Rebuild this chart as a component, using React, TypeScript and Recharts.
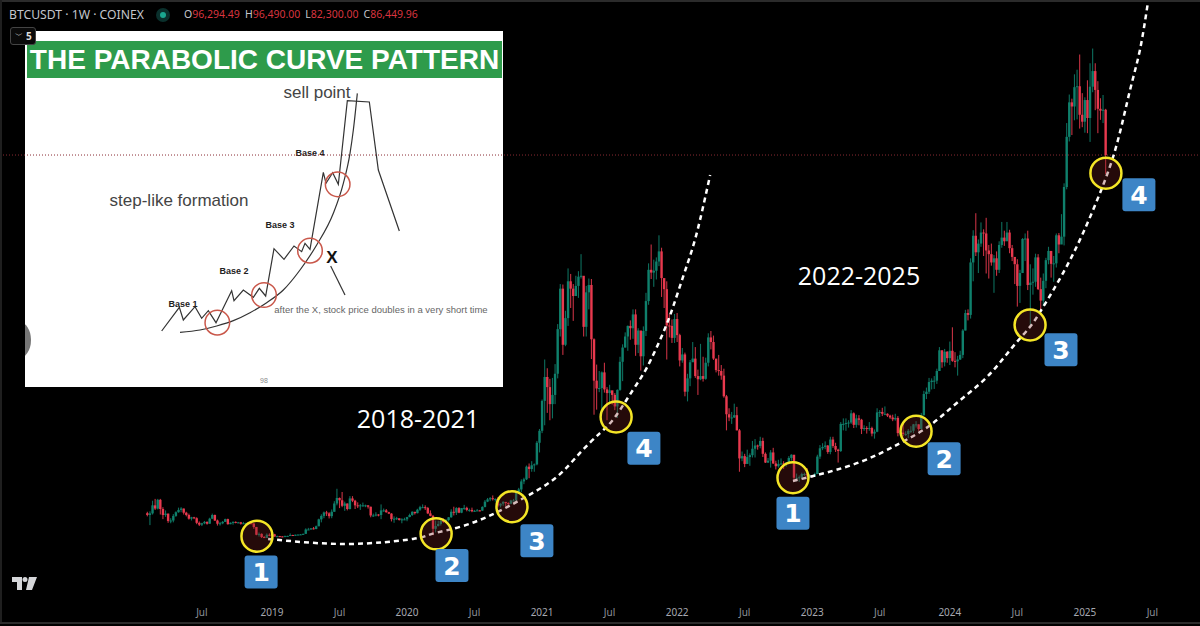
import { Bar, ComposedChart, Line, LineChart, ReferenceDot, ReferenceLine, XAxis, YAxis } from 'recharts';

// weekly BTCUSDT, prices in thousands of USD, first bar is the week of Jan 29 2018
const firstOpen = 8.6;
const closes = [
  8.2, 8.55, 10.3, 9.6, 11.5, 9.5, 8.2, 8.5, 6.9, 7.0, 8.0, 8.8, 9.3, 9.6, 8.7, 8.2, 7.4, 7.7, 7.5, 6.5, 6.1, 6.4, 6.7, 6.3, 7.4, 8.2, 7.0, 6.3, 6.4, 6.7, 7.3, 6.2, 6.5, 6.7, 6.6, 6.6, 6.3, 6.4, 6.4, 6.4, 6.35, 5.6, 3.9, 4.1, 3.4, 3.2, 3.9, 3.8, 4.0,
  3.5, 3.6, 3.55, 3.45, 3.65, 3.65, 3.85, 3.8, 3.9, 3.95, 3.98, 4.1, 5.05, 5.05, 5.3, 5.15, 5.75, 7.25, 8.0, 8.75, 8.55, 7.95, 8.9, 10.7, 11.9, 11.4, 10.2, 10.7, 9.5, 11.8, 11.3, 10.3, 10.1, 10.3, 10.3, 10.3, 10.0, 8.1, 8.1, 8.3, 8.2, 9.2, 9.2, 8.8, 8.5, 7.3, 7.4, 7.5, 7.1, 7.25, 7.25, 7.75,
  8.2, 8.9, 8.6, 9.35, 9.9, 9.9, 9.7, 8.55, 8.0, 5.2, 5.8, 6.25, 6.9, 6.85, 7.1, 7.7, 8.9, 8.7, 9.7, 8.7, 9.7, 9.75, 9.3, 9.3, 9.0, 9.1, 9.2, 9.15, 9.95, 11.1, 11.6, 11.85, 11.65, 11.7, 10.25, 10.65, 11.05, 10.8, 10.65, 11.35, 11.35, 13.1, 13.75, 15.5, 15.95, 18.7, 18.2, 19.0, 19.2, 23.9, 26.5, 33.0,
  38.2, 36.0, 32.3, 34.3, 38.9, 48.6, 57.4, 45.2, 51.0, 59.0, 57.4, 55.8, 58.0, 60.0, 60.2, 49.1, 56.6, 58.2, 46.4, 37.4, 35.7, 35.8, 39.2, 35.5, 34.7, 35.3, 34.3, 31.8, 35.4, 41.5, 44.6, 47.0, 49.3, 48.8, 51.8, 45.2, 48.3, 42.7, 48.2, 54.7, 61.5, 60.9, 61.3, 63.3, 65.5, 59.7, 57.3, 49.4, 49.3, 46.7, 50.8, 47.3,
  41.8, 43.1, 35.0, 37.9, 41.4, 42.2, 38.4, 37.7, 38.4, 37.8, 41.3, 46.8, 45.8, 42.2, 39.7, 39.5, 38.5, 34.0, 30.1, 29.4, 29.4, 29.9, 26.6, 20.5, 21.0, 19.3, 20.8, 21.2, 22.6, 23.3, 23.2, 24.3, 21.5, 19.6, 20.0, 21.8, 19.4, 18.8, 19.3, 19.4, 19.3, 19.6, 20.6, 21.3, 16.3, 16.3, 16.4, 17.1, 17.1, 16.8, 16.8, 16.6,
  17.1, 20.9, 22.7, 23.0, 23.3, 21.9, 24.6, 23.2, 22.4, 22.1, 28.0, 28.0, 28.2, 28.3, 30.3, 27.8, 29.2, 28.9, 26.9, 27.1, 26.9, 27.1, 25.9, 26.3, 30.5, 30.6, 30.2, 30.2, 29.8, 29.4, 29.0, 29.3, 26.0, 26.1, 25.8, 25.8, 26.5, 26.5, 27.9, 27.9, 26.9, 29.9, 34.5, 35.0, 37.1, 37.4, 37.4, 39.5, 44.0, 41.4, 43.7, 42.3,
  43.9, 41.7, 41.6, 42.0, 43.0, 48.3, 52.1, 51.7, 63.1, 68.9, 65.3, 67.2, 69.6, 69.4, 65.7, 64.9, 63.1, 64.0, 61.5, 66.9, 68.5, 67.7, 69.6, 66.2, 64.3, 62.7, 58.0, 60.8, 68.2, 68.3, 58.2, 58.7, 58.9, 64.2, 57.3, 54.8, 59.1, 63.6, 65.6, 62.8, 62.9, 69.0, 67.0, 68.7, 79.5, 90.4, 97.9, 97.0, 101.2, 101.4, 95.2, 93.7, 98.4,
  94.5, 101.3, 104.7, 100.6, 96.5, 96.1, 96.29, 86.45,
];
const highs = [
  8.9, 9.0, 11.3, 11.7, 11.7, 11.7, 9.9, 9.2, 8.5, 7.5, 8.4, 9.0, 9.8, 9.9, 9.6, 8.9, 8.5, 7.8, 7.8, 7.7, 6.8, 6.5, 6.9, 6.8, 7.6, 8.5, 8.3, 7.2, 6.7, 6.9, 7.4, 7.4, 6.6, 6.8, 6.8, 6.7, 6.7, 6.7, 6.5, 6.5, 6.5, 6.4, 5.6, 4.4, 4.2, 3.6, 4.2, 4.2, 4.1,
  4.1, 3.7, 3.65, 3.55, 3.7, 3.7, 4.2, 3.9, 3.95, 3.95, 4.05, 4.15, 5.3, 5.4, 5.35, 5.6, 5.9, 7.4, 8.35, 8.95, 9.1, 8.8, 9.4, 11.2, 13.9, 12.0, 13.2, 11.1, 10.7, 12.3, 12.3, 11.5, 10.95, 10.6, 10.9, 10.45, 10.3, 10.0, 8.5, 8.8, 8.4, 10.5, 9.6, 9.5, 8.9, 8.6, 7.9, 7.8, 7.4, 7.5, 7.6, 7.8,
  8.5, 9.0, 8.8, 9.55, 10.2, 10.5, 10.3, 9.95, 9.2, 8.2, 7.0, 6.95, 7.3, 7.45, 7.3, 7.75, 9.45, 10.0, 9.9, 9.9, 9.7, 10.4, 10.0, 9.6, 9.8, 9.3, 9.5, 9.3, 10.1, 11.45, 11.9, 12.1, 12.45, 11.8, 12.1, 10.75, 11.2, 10.95, 10.95, 11.5, 11.7, 13.35, 14.1, 15.95, 16.3, 18.95, 19.4, 19.9, 19.4, 24.3, 26.9, 33.3,
  42.0, 40.1, 37.8, 38.0, 41.0, 49.7, 58.4, 58.3, 52.6, 61.8, 60.6, 58.4, 60.2, 61.2, 64.9, 57.5, 58.0, 59.6, 59.5, 46.6, 40.9, 39.5, 39.4, 41.3, 36.0, 36.5, 35.1, 34.7, 35.5, 42.6, 45.3, 47.9, 49.4, 50.5, 52.9, 52.9, 48.8, 48.1, 49.2, 56.5, 62.9, 67.0, 63.7, 64.2, 69.0, 66.3, 59.5, 59.0, 51.9, 50.7, 51.9, 52.1,
  47.6, 44.5, 43.5, 38.9, 41.9, 45.8, 44.7, 39.8, 45.4, 42.6, 42.4, 47.7, 48.2, 47.2, 41.6, 43.0, 40.8, 40.0, 34.3, 31.4, 30.6, 32.4, 31.7, 26.9, 22.0, 21.5, 22.4, 21.6, 24.3, 24.7, 23.5, 25.2, 25.0, 21.8, 20.6, 22.3, 22.8, 20.0, 20.2, 20.5, 19.9, 19.7, 21.0, 21.4, 21.0, 17.2, 16.8, 17.4, 17.4, 18.4, 17.0, 16.9,
  17.4, 21.3, 23.4, 23.8, 24.2, 23.4, 25.2, 25.2, 23.9, 22.6, 28.4, 29.2, 29.2, 28.8, 31.0, 30.5, 30.0, 29.9, 29.1, 27.7, 27.5, 28.4, 27.4, 26.8, 31.4, 31.0, 31.5, 31.8, 30.3, 30.0, 30.0, 30.2, 29.7, 26.8, 28.1, 26.4, 26.9, 27.5, 28.0, 28.6, 27.9, 30.4, 35.2, 35.9, 38.0, 37.9, 38.4, 40.0, 44.7, 44.0, 44.3, 43.8,
  45.9, 49.0, 43.6, 42.8, 43.9, 48.6, 52.8, 52.9, 64.0, 70.1, 73.8, 68.1, 71.8, 70.3, 72.8, 66.9, 67.2, 64.7, 65.5, 67.7, 71.9, 70.0, 71.9, 70.2, 66.9, 62.7, 63.8, 61.5, 68.4, 69.4, 70.0, 62.7, 61.8, 65.0, 64.9, 59.8, 60.7, 64.1, 66.5, 65.6, 64.5, 69.4, 69.5, 73.6, 80.3, 93.4, 99.6, 98.7, 104.0, 105.0, 108.3, 99.9, 99.0,
  102.7, 106.4, 109.6, 106.4, 102.5, 98.8, 99.5, 96.49,
];
const lows = [
  7.9, 6.0, 8.3, 9.3, 9.4, 8.3, 7.3, 7.8, 6.5, 6.4, 6.6, 7.8, 8.7, 8.8, 8.3, 7.9, 7.2, 7.0, 7.3, 6.2, 5.8, 5.8, 6.2, 6.1, 6.3, 7.3, 6.9, 5.9, 5.9, 6.2, 6.7, 6.1, 6.2, 6.1, 6.4, 6.4, 6.1, 6.3, 6.4, 6.3, 6.3, 5.2, 3.8, 3.5, 3.2, 3.2, 3.2, 3.6, 3.7,
  3.5, 3.5, 3.45, 3.35, 3.35, 3.55, 3.65, 3.7, 3.65, 3.8, 3.85, 3.9, 4.1, 4.95, 5.0, 5.05, 5.1, 5.75, 6.6, 7.5, 8.0, 7.45, 7.5, 8.9, 10.3, 9.7, 9.9, 9.1, 9.2, 9.4, 11.0, 9.5, 9.7, 9.3, 10.0, 9.9, 9.6, 7.7, 7.8, 7.9, 7.9, 7.3, 8.9, 8.7, 8.4, 6.8, 6.5, 7.1, 7.0, 6.4, 7.1, 6.85,
  7.7, 8.0, 8.3, 8.55, 9.1, 9.7, 9.3, 8.4, 7.9, 3.8, 4.4, 5.7, 5.9, 6.5, 6.5, 6.8, 7.6, 8.1, 8.2, 8.6, 8.6, 9.3, 9.0, 8.9, 8.8, 8.9, 9.05, 9.0, 9.1, 9.85, 11.0, 11.2, 11.35, 11.1, 9.9, 9.85, 10.2, 10.1, 10.4, 10.55, 11.2, 11.4, 12.8, 13.2, 14.9, 15.8, 16.2, 17.6, 17.6, 19.0, 21.8, 26.0,
  27.7, 30.4, 28.8, 29.2, 32.3, 37.9, 47.0, 43.0, 44.9, 49.3, 53.2, 50.4, 56.9, 55.4, 59.6, 47.0, 47.0, 52.9, 42.1, 30.0, 31.1, 34.9, 31.0, 34.8, 28.8, 32.7, 32.2, 31.0, 29.3, 35.2, 37.3, 44.6, 43.9, 46.3, 46.5, 42.8, 43.4, 39.6, 40.7, 47.1, 53.9, 59.5, 57.8, 59.4, 62.3, 55.6, 53.2, 42.0, 46.8, 45.6, 45.6, 45.8,
  40.5, 41.3, 34.0, 32.9, 36.2, 41.7, 38.0, 34.3, 37.5, 37.2, 37.6, 40.5, 44.2, 41.9, 39.2, 38.5, 37.6, 33.7, 26.6, 28.6, 28.0, 29.3, 26.6, 17.6, 19.9, 18.6, 19.3, 18.9, 20.7, 20.7, 22.4, 22.7, 20.8, 19.5, 19.5, 18.5, 19.3, 18.1, 18.5, 19.1, 18.2, 18.7, 19.3, 20.0, 15.6, 15.5, 15.4, 16.0, 16.7, 16.5, 16.3, 16.3,
  16.5, 17.1, 20.4, 22.3, 22.5, 21.5, 21.4, 22.8, 21.9, 19.6, 21.9, 26.6, 26.5, 27.2, 28.0, 27.1, 27.2, 27.7, 25.8, 26.5, 25.9, 26.5, 25.3, 24.8, 26.2, 29.5, 29.7, 29.9, 29.5, 29.1, 28.6, 28.7, 25.3, 25.4, 25.3, 25.4, 24.9, 26.0, 26.0, 27.2, 26.5, 26.9, 29.8, 33.4, 34.5, 35.5, 35.6, 36.7, 39.5, 40.2, 40.5, 41.3,
  40.8, 41.5, 40.3, 38.5, 41.9, 42.3, 48.3, 50.5, 50.9, 59.0, 64.5, 60.8, 66.5, 64.5, 60.7, 59.6, 62.4, 56.5, 60.2, 60.8, 66.3, 66.7, 68.5, 65.1, 63.4, 58.4, 53.5, 54.3, 62.5, 63.4, 57.1, 49.0, 56.1, 57.8, 57.1, 52.6, 53.6, 57.5, 62.7, 59.8, 58.9, 62.0, 65.1, 67.5, 66.8, 79.0, 89.4, 90.8, 94.0, 94.2, 92.2, 92.5, 91.3,
  91.2, 89.3, 100.1, 96.2, 91.2, 94.1, 93.4, 82.3,
];

const candles = closes.map((close, week) => ({
  week,
  open: week === 0 ? firstOpen : closes[week - 1],
  close,
  range: [lows[week], highs[week]],
}));

const curve2018 = [
  { week: 46.5, price: 3 }, { week: 76.9, price: 1.9 }, { week: 102.3, price: 3 }, { week: 109.6, price: 4.1 },
  { week: 121.5, price: 5.8 }, { week: 134.6, price: 8.8 }, { week: 146.2, price: 12.3 }, { week: 157.7, price: 16.5 },
  { week: 166.6, price: 21.7 }, { week: 174.3, price: 26 }, { week: 180.1, price: 29.5 }, { week: 187, price: 35.4 },
  { week: 192.4, price: 40.3 }, { week: 198.6, price: 47.8 }, { week: 202.4, price: 53.4 }, { week: 206.3, price: 60 },
  { week: 209.7, price: 65.8 }, { week: 212.8, price: 72.3 }, { week: 216.7, price: 82.1 },
];
const curve2022 = [
  { week: 248.6, price: 15.6 }, { week: 257.9, price: 16.9 }, { week: 274.4, price: 19.7 }, { week: 289.8, price: 23.8 },
  { week: 301.4, price: 27.7 }, { week: 311.8, price: 32.6 }, { week: 323.3, price: 38.2 }, { week: 333.3, price: 44.8 },
  { week: 339.9, price: 49.1 }, { week: 344.9, price: 53.4 }, { week: 352.6, price: 60.8 }, { week: 360.3, price: 69.5 },
  { week: 367.6, price: 79.3 }, { week: 373.4, price: 89 }, { week: 378.4, price: 100.6 }, { week: 382.2, price: 109.3 },
  { week: 385.3, price: 119.7 },
];

const circleWeeks = [42.2, 111.2, 140.4, 180.5, 248.6, 296, 339.9, 369.1];
const circlePrices = [3.6, 4.1, 10, 29.5, 16.3, 26.4, 49.5, 82.5];
const badgeWeeks = [43.8, 117.3, 150, 191.2, 248.6, 306.8, 351.8, 381.8];
const badgePrices = [-4.2, -2.8, 2.6, 22.7, 8.6, 20.4, 44.1, 77.8];
const badgeLabels = ['1', '2', '3', '4', '1', '2', '3', '4'];

const tickWeeks = [21, 48, 74, 100, 126, 152, 178, 204, 230, 256, 282, 309, 335, 361, 387];
const tickLabels = ['Jul', '2019', 'Jul', '2020', 'Jul', '2021', 'Jul', '2022', 'Jul', '2023', 'Jul', '2024', 'Jul', '2025', 'Jul'];

const lastClose = 86.45;

// the pasted schematic
const insetSteps = [
  [485, 993], [538, 922], [550, 960], [585, 920], [605, 955], [625, 932], [648, 968], [695, 872], [702, 902], [730, 870],
  [760, 892], [778, 865], [797, 888], [822, 746], [852, 778], [882, 738], [905, 755], [915, 730], [930, 748], [970, 517],
  [978, 550], [998, 518], [1015, 553], [1042, 302], [1108, 306], [1135, 510], [1198, 693],
].map(([sx, sy]) => ({ sx, sy }));
const insetCurve = [
  [540, 997], [600, 990], [650, 978], [700, 962], [750, 938], [800, 908], [850, 870], [900, 810], [950, 735],
  [1000, 640], [1030, 550], [1050, 460], [1060, 390], [1072, 280],
].map(([sx, sy]) => ({ sx, sy }));
const insetPointer = [[992, 798], [1035, 885]].map(([sx, sy]) => ({ sx, sy }));
const insetCircleX = [652, 792, 930, 1013];
const insetCircleY = [968, 885, 752, 553];

const CandleShape = (props: any) => {
  const { x, y, width, height, payload } = props;
  const [low, high] = payload.range;
  const perUnit = height / (high - low);
  const up = payload.close >= payload.open;
  const color = up ? '#0f806c' : '#e8394e';
  const cx = x + width / 2;
  const bodyTop = y + (high - Math.max(payload.open, payload.close)) * perUnit;
  const bodyHeight = Math.max(1, Math.abs(payload.close - payload.open) * perUnit);
  return (
    <g>
      <rect x={cx - 0.55} y={y} width={1.1} height={height} fill={color} opacity={0.85} />
      <rect x={cx - 1.2} y={bodyTop} width={2.4} height={bodyHeight} fill={color} />
    </g>
  );
};

const Badge = (props: any) => {
  const { cx, cy, label } = props;
  return (
    <g>
      <rect x={cx - 16.5} y={cy - 16.5} width={33} height={33} rx={3} fill="#3d85c6" />
      <text x={cx} y={cy + 9} textAnchor="middle" fill="#fff" fontSize={25} fontWeight={700} fontFamily="DejaVu Sans">
        {label}
      </text>
    </g>
  );
};

const AxisTick = (props: any) => {
  const { x, y, payload, index } = props;
  const label = tickLabels[index];
  return (
    <text x={x} y={y} textAnchor="middle" fontSize={10} fontFamily="Noto Sans" fill={label === 'Jul' ? '#8d9099' : '#a6a8b0'}>
      {label ?? payload.value}
    </text>
  );
};

const Note = ({ x, y, size, color, bold, children }: any) => (
  <div
    style={{
      position: 'absolute',
      left: x,
      top: y,
      transform: 'translate(-50%, -50%)',
      fontSize: size,
      color,
      fontWeight: bold ? 700 : 400,
      fontFamily: 'Liberation Sans',
      whiteSpace: 'nowrap',
      lineHeight: 1,
    }}
  >
    {children}
  </div>
);

function Inset() {
  return (
    <div style={{ position: 'absolute', left: 25, top: 31, width: 478, height: 356, background: '#fff', overflow: 'hidden' }}>
      <div style={{ position: 'absolute', left: 2, top: 10, width: 475, height: 37, background: '#2e9b4b' }} />
      <div
        style={{
          position: 'absolute', left: 2, top: 10, width: 475, height: 37, lineHeight: '37px', textAlign: 'center',
          color: '#fff', fontSize: 28, fontWeight: 700, fontFamily: 'Liberation Sans', whiteSpace: 'nowrap',
        }}
      >
        THE PARABOLIC CURVE PATTERN
      </div>
      <div style={{ position: 'absolute', left: -18, top: 291, width: 24, height: 36, borderRadius: '50%', background: '#777' }} />
      <div style={{ position: 'absolute', left: 0, top: 0 }}>
        <LineChart width={478} height={356} margin={{ top: 0, right: 0, bottom: 0, left: 0 }}>
          <XAxis type="number" dataKey="sx" domain={[75, 1509]} hide allowDataOverflow />
          <YAxis type="number" domain={[93, 1161]} reversed hide allowDataOverflow />
          <Line data={insetCurve} dataKey="sy" type="monotone" stroke="#333" strokeWidth={1.2} dot={false} isAnimationActive={false} />
          <Line data={insetSteps} dataKey="sy" type="linear" stroke="#333" strokeWidth={1.2} dot={false} isAnimationActive={false} />
          <Line data={insetPointer} dataKey="sy" type="linear" stroke="#333" strokeWidth={1.2} dot={false} isAnimationActive={false} />
          {insetCircleX.map((sx, i) => (
            <ReferenceDot key={sx} x={sx} y={insetCircleY[i]} r={12.3} fill="none" stroke="#c9574a" strokeWidth={1.5} />
          ))}
        </LineChart>
      </div>
      <Note x={292} y={61} size={17} color="#444">sell point</Note>
      <Note x={154} y={169} size={17} color="#444">step-like formation</Note>
      <Note x={285} y={122} size={9} color="#222" bold>Base 4</Note>
      <Note x={255} y={194} size={9} color="#222" bold>Base 3</Note>
      <Note x={209} y={240} size={9} color="#222" bold>Base 2</Note>
      <Note x={158} y={273} size={9} color="#222" bold>Base 1</Note>
      <Note x={307} y={226} size={17} color="#111" bold>X</Note>
      <Note x={356} y={279} size={9.5} color="#666">after the X, stock price doubles in a very short time</Note>
      <Note x={239} y={349} size={7} color="#888">98</Note>
    </div>
  );
}

function Header() {
  const ohlc = [['O', '96,294.49'], ['H', '96,490.00'], ['L', '82,300.00'], ['C', '86,449.96']];
  return (
    <div style={{ position: 'absolute', left: 0, top: 0, width: 1200, height: 30, fontFamily: 'Noto Sans', fontSize: 12 }}>
      <span style={{ position: 'absolute', left: 9, top: 6, color: '#c4c6cc', whiteSpace: 'nowrap', fontSize: 12.2 }}>BTCUSDT · 1W · COINEX</span>
      <span style={{ position: 'absolute', left: 156, top: 8, width: 14, height: 14, borderRadius: 7, background: '#0a302c' }} />
      <span style={{ position: 'absolute', left: 160, top: 12, width: 6, height: 6, borderRadius: 3, background: '#1aa68f' }} />
      <span style={{ position: 'absolute', left: 184, top: 7, whiteSpace: 'nowrap', fontSize: 10.5 }}>
        {ohlc.map(([k, v]) => (
          <span key={k} style={{ marginRight: 5 }}>
            <span style={{ color: '#c4c6cc' }}>{k}</span>
            <span style={{ color: '#d8343f' }}>{v}</span>
          </span>
        ))}
      </span>
      <div style={{ position: 'absolute', left: 10, top: 27, width: 24, height: 16, border: '1px solid #444', borderRadius: 3, background: '#0a0a0a', color: '#ddd', fontSize: 10, lineHeight: '16px' }}>
        <span style={{ position: 'absolute', left: 4, top: -1, fontSize: 8 }}>﹀</span>
        <span style={{ position: 'absolute', left: 15, top: 0, fontWeight: 700 }}>5</span>
      </div>
    </div>
  );
}

export default function App() {
  return (
    <div style={{ position: 'absolute', left: 0, top: 0, width: 1200, height: 626, background: '#000', overflow: 'hidden' }}>
      <Inset />
      <div style={{ position: 'absolute', left: 0, top: 0 }}>
        <ComposedChart width={1200} height={626} data={candles} margin={{ top: 0, right: 0, bottom: 0, left: 0 }}>
          <XAxis
            type="number"
            dataKey="week"
            domain={[-56.74, 405.33]}
            ticks={tickWeeks}
            interval={0}
            height={30}
            axisLine={false}
            tickLine={false}
            tickMargin={14}
            tick={<AxisTick />}
            allowDataOverflow
          />
          <YAxis type="number" domain={[-9.41, 120.15]} hide allowDataOverflow />
          <ReferenceLine y={lastClose} stroke="#8a2b33" strokeDasharray="1 2" />
          <Bar dataKey="range" barSize={2} shape={<CandleShape />} isAnimationActive={false} />
          {circleWeeks.map((week, i) => (
            <ReferenceDot key={week} x={week} y={circlePrices[i]} r={15.5} fill="#7a2020" fillOpacity={0.3} stroke="#f4e526" strokeWidth={2.5} />
          ))}
          <Line data={curve2018} dataKey="price" type="natural" stroke="#fff" strokeWidth={2.5} strokeDasharray="5 4" dot={false} isAnimationActive={false} />
          <Line data={curve2022} dataKey="price" type="natural" stroke="#fff" strokeWidth={2.5} strokeDasharray="5 4" dot={false} isAnimationActive={false} />
          {badgeWeeks.map((week, i) => (
            <ReferenceDot key={week} x={week} y={badgePrices[i]} shape={(p: any) => <Badge {...p} label={badgeLabels[i]} />} />
          ))}
        </ComposedChart>
      </div>
      <Header />
      <div style={{ position: 'absolute', left: 418, top: 418, transform: 'translate(-50%,-50%)', color: '#fff', fontSize: 25, fontFamily: 'Open Sans', whiteSpace: 'nowrap' }}>2018-2021</div>
      <div style={{ position: 'absolute', left: 859, top: 275, transform: 'translate(-50%,-50%)', color: '#fff', fontSize: 25, fontFamily: 'Open Sans', whiteSpace: 'nowrap' }}>2022-2025</div>
      <svg style={{ position: 'absolute', left: 12, top: 577 }} width={25} height={14} viewBox="0 0 25 14">
        <path d="M0 0h10v13H5V5H0z M17 0h8l-5 13h-6z" fill="#d5d6d9" />
        <circle cx={13} cy={2.5} r={2.5} fill="#d5d6d9" />
      </svg>
      <div style={{ position: 'absolute', left: 0, top: 0, width: 1200, height: 2, background: '#2b2b2b' }} />
      <div style={{ position: 'absolute', left: 0, top: 0, width: 2, height: 624, background: '#1f1f1f' }} />
      <div style={{ position: 'absolute', left: 0, top: 622, width: 1200, height: 2, background: '#2b2b2b' }} />
    </div>
  );
}
